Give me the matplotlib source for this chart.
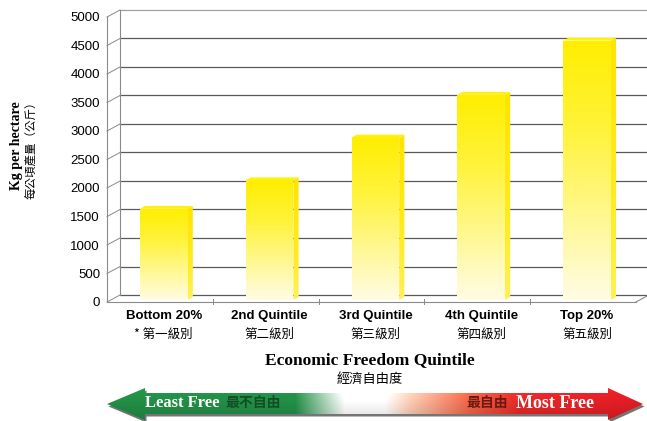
import numpy as np
import matplotlib
matplotlib.use("Agg")
import matplotlib.pyplot as plt
from matplotlib.patches import Polygon
from matplotlib.transforms import blended_transform_factory

# data
categories = ["Bottom 20%", "2nd Quintile", "3rd Quintile", "4th Quintile", "Top 20%"]
categories_zh = ["* 第一級別", "第二級別", "第三級別", "第四級別", "第五級別"]
values = [1600, 2100, 2850, 3600, 4550]
yticks = list(range(0, 5001, 500))

CJK = ["Noto Sans CJK TC", "DejaVu Sans"]
SANS = ["Liberation Sans", "DejaVu Sans"]
SERIF = ["Liberation Serif", "DejaVu Serif"]

W, H = 647, 421
fig = plt.figure(figsize=(W / 100, H / 100), dpi=100)
ax = fig.add_axes([107 / W, (H - 302) / H, 529 / W, 285 / H], zorder=2)
ax.set_xlim(-0.5, 4.5)
ax.set_ylim(0, 5000)
ax.patch.set_visible(False)
for sp in ax.spines.values():
    sp.set_visible(False)
ax.set_xticks([])
ax.set_yticks(yticks)
ax.tick_params(axis="y", length=0, pad=5, labelsize=9.5)
for lab in ax.get_yticklabels():
    lab.set_family(SANS)

# depth of the fake 3d box, in data units (13 px right, 7 px up)
dx = 13 / (ax.bbox.width / 5)
dy = 7 / (ax.bbox.height / 5000)

# back wall grid + left wall
for v in yticks:
    c = "#a0a0a0" if v == 5000 else "#5a5a5a"
    ax.plot([-0.5 + dx, 4.5 + dx], [v + dy, v + dy], color=c, lw=0.9, clip_on=False, zorder=1)
    ax.plot([-0.5, -0.5 + dx], [v, v + dy], color="#8a8a8a", lw=0.7, clip_on=False, zorder=1)
ax.plot([-0.5 + dx] * 2, [dy, 5000 + dy], color="#8a8a8a", lw=0.8, clip_on=False, zorder=1)
ax.plot([-0.5, -0.5], [0, 5000], color="#8a8a8a", lw=0.8, clip_on=False, zorder=1)
ax.plot([-0.5, 4.5], [0, 0], color="#8a8a8a", lw=0.8, clip_on=False, zorder=4)
ax.plot([4.5, 4.5 + dx], [0, dy], color="#8a8a8a", lw=0.8, clip_on=False, zorder=4)
for b in [0.5, 1.5, 2.5, 3.5]:
    ax.plot([b, b], [-40, 50], color="#8a8a8a", lw=0.7, clip_on=False, zorder=4)


def ramp(stops, n=200):
    t = np.linspace(0, 1, n)
    pos = [s[0] for s in stops]
    out = np.zeros((n, 1, 3))
    for k in range(3):
        out[:, 0, k] = np.interp(t, pos, [s[1][k] / 255 for s in stops])
    return out


front_grad = ramp([(0, (255, 238, 0)), (0.35, (255, 243, 60)),
                   (0.7, (255, 248, 150)), (1, (255, 252, 228))])
side_grad = ramp([(0, (255, 228, 0)), (0.6, (255, 235, 30)), (1, (255, 240, 90))])

bw = 0.45
fx, fy = dx * 0.3, dy * 0.3
sx, sy = dx * 0.4, dy * 0.4
for i, v in enumerate(values):
    x0 = i - bw / 2 + fx
    x1 = i + bw / 2 + fx
    b = fy
    t = v + fy
    face = Polygon([(x0, b), (x1, b), (x1, t), (x0, t)], closed=True,
                   facecolor="none", edgecolor="none")
    ax.add_patch(face)
    im = ax.imshow(front_grad, extent=[x0, x1, b, t], aspect="auto",
                   origin="upper", zorder=3, interpolation="bilinear")
    im.set_clip_path(face)
    side = Polygon([(x1, b), (x1 + sx, b + sy), (x1 + sx, t + sy), (x1, t)],
                   closed=True, facecolor="none", edgecolor="none")
    ax.add_patch(side)
    im2 = ax.imshow(side_grad, extent=[x1, x1 + sx, b, t + sy], aspect="auto",
                    origin="upper", zorder=3, interpolation="bilinear")
    im2.set_clip_path(side)
    top = Polygon([(x0, t), (x1, t), (x1 + sx, t + sy), (x0 + sx, t + sy)],
                  closed=True, facecolor="#fff10a", edgecolor="none", zorder=3)
    ax.add_patch(top)

ax.set_xlim(-0.5, 4.5)
ax.set_ylim(0, 5000)

# overlay in pixel coordinates for texts and the arrow
ax2 = fig.add_axes([0, 0, 1, 1], zorder=1)
ax2.set_xlim(0, W)
ax2.set_ylim(H, 0)
ax2.axis("off")

lab_tr = blended_transform_factory(ax.transData, ax2.transData)
for i, (en, zh) in enumerate(zip(categories, categories_zh)):
    ax2.text(i + fx, 316, en, transform=lab_tr, ha="center", va="center",
             fontsize=9.5, fontweight="bold", family=SANS)
    ax2.text(i + fx, 334, zh, transform=lab_tr, ha="center", va="center",
             fontsize=9, family=CJK)

ax2.text(17, 146, "Kg per hectare", rotation=90, ha="center", va="center",
         fontsize=10, fontweight="bold", family=SERIF)
ax2.text(32, 147, "每公頃產量（公斤）", rotation=90, ha="center", va="center",
         fontsize=8.3, family=CJK)
ax2.text(370, 360, "Economic Freedom Quintile", ha="center", va="center",
         fontsize=12.5, fontweight="bold", family=SERIF)
ax2.text(370, 379, "經濟自由度", ha="center", va="center", fontsize=9.5, family=CJK)

# double arrow green -> red
cy = 404
pts = [(107, cy), (145, cy - 16), (145, cy - 11), (608, cy - 11), (608, cy - 16),
       (643, cy), (608, cy + 16), (608, cy + 10), (145, cy + 10), (145, cy + 16)]
shadow = Polygon([(x + 1.5, y + 2.5) for x, y in pts], closed=True,
                 facecolor="#3a3a3a", edgecolor="none", alpha=0.7, zorder=1)
ax2.add_patch(shadow)
arrow = Polygon(pts, closed=True, facecolor="none", edgecolor="none", zorder=2)
ax2.add_patch(arrow)
xs = np.linspace(107, 643, 600)
xstops = [107, 295, 345, 385, 410, 470, 520, 643]
cstops = [(34, 142, 70), (34, 142, 70), (255, 255, 255), (255, 255, 255),
          (250, 205, 180), (240, 100, 70), (230, 40, 40), (225, 28, 36)]
row = np.zeros((1, len(xs), 3))
for k in range(3):
    row[0, :, k] = np.interp(xs, xstops, [c[k] / 255 for c in cstops])
img = np.repeat(row, 40, axis=0)
shade = np.linspace(1.08, 0.88, 40)[:, None, None]
img = np.clip(img * shade, 0, 1)
aim = ax2.imshow(img, extent=[107, 643, cy + 16, cy - 16], aspect="auto",
                 origin="upper", zorder=2, interpolation="bilinear")
aim.set_clip_path(arrow)
ax2.set_xlim(0, W)
ax2.set_ylim(H, 0)

ax2.text(145, cy - 1, "Least Free", ha="left", va="center", color="white",
         fontsize=12, fontweight="bold", family=SERIF, zorder=3)
ax2.text(225, cy - 1, "最不自由", ha="left", va="center", color="#124d25",
         fontsize=10, fontweight="bold", family=CJK, zorder=3)
ax2.text(466, cy - 1, "最自由", ha="left", va="center", color="#6a1810",
         fontsize=10, fontweight="bold", family=CJK, zorder=3)
ax2.text(516, cy - 1, "Most Free", ha="left", va="center", color="white",
         fontsize=13, fontweight="bold", family=SERIF, zorder=3)

fig.savefig("out.png", dpi=100)
